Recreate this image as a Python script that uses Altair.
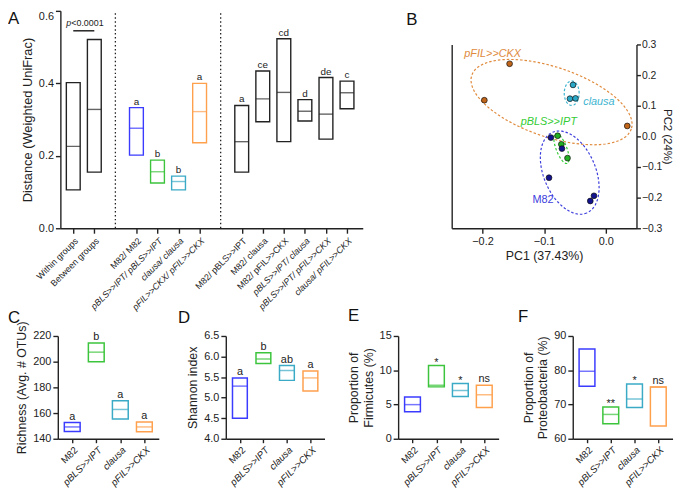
import altair as alt
import pandas as pd

FONT = "Liberation Sans"
INK = "#222222"
W, H = 677, 485

GROUPS = ["M82", "pBLS>>IPT", "clausa", "pFIL>>CKX"]

# ---------------- Panel A : pairwise weighted UniFrac distances ----------------
A_CATS = ["Within groups", "Between groups",
          "M82/ M82", "pBLS>>IPT/ pBLS>>IPT", "clausa/ clausa", "pFIL>>CKX/  pFIL>>CKX",
          "M82/ pBLS>>IPT", "M82/ clausa", "M82/ pFIL>>CKX",
          "pBLS>>IPT/ clausa", "pBLS>>IPT/  pFIL>>CKX", "clausa/ pFIL>>CKX"]
A_KIND = ["pooled", "pooled", "M82", "pBLS>>IPT", "clausa", "pFIL>>CKX",
          "pair", "pair", "pair", "pair", "pair", "pair"]
A_MIN = [0.106, 0.155, 0.202, 0.125, 0.106, 0.236, 0.155, 0.294, 0.239, 0.296, 0.246, 0.330]
A_MED = [0.226, 0.328, 0.276, 0.156, 0.129, 0.322, 0.239, 0.357, 0.375, 0.323, 0.315, 0.374]
A_MAX = [0.402, 0.521, 0.333, 0.188, 0.144, 0.400, 0.339, 0.434, 0.523, 0.355, 0.416, 0.406]
A_LETTERS = ["", "", "a", "b", "b", "a", "a", "ce", "cd", "d", "de", "c"]
A_GAPS = ["gap1", "gap2"]
A_P_TEXT = "<0.0001"
A_P_Y = 0.545

# ---------------- Panel B : PCoA ----------------
B_GROUP = ["pFIL>>CKX"] * 3 + ["clausa"] * 3 + ["pBLS>>IPT"] * 3 + ["M82"] * 5
B_PC1 = [-0.156, -0.197, 0.035, -0.053, -0.058, -0.049, -0.078, -0.072, -0.062,
         -0.089, -0.071, -0.092, -0.019, -0.025]
B_PC2 = [0.237, 0.118, 0.034, 0.168, 0.123, 0.124, 0.002, -0.026, -0.071,
         -0.004, -0.040, -0.135, -0.194, -0.211]
ELL_GROUP = ["pFIL>>CKX", "clausa", "pBLS>>IPT", "M82"]
ELL_CX = [-0.0879, -0.0552, -0.0718, -0.0584]
ELL_CY = [0.1118, 0.1409, -0.0398, -0.1183]
ELL_AX = [0.1295, 0.0121, 0.0094, 0.0275]
ELL_AY = [-0.0880, 0.0000, -0.0484, -0.1319]
ELL_BX = [-0.0182, 0.0000, -0.0080, -0.0390]
ELL_BY = [-0.1080, 0.0398, -0.0062, -0.0327]
LAB_TEXT = ["pFIL>>CKX", "clausa", "pBLS>>IPT", "M82"]
LAB_PC1 = [-0.2295, -0.0365, -0.138, -0.119]
LAB_PC2 = [0.268, 0.112, 0.047, -0.209]

# ---------------- Panels C-F ----------------
C_MIN = [145.6, 200.0, 155.4, 145.4]
C_MED = [149.2, 207.4, 162.8, 149.2]
C_MAX = [152.6, 214.6, 169.5, 153.1]
C_LET = ["a", "b", "a", "a"]

D_MIN = [4.50, 5.83, 5.42, 5.16]
D_MED = [5.28, 5.94, 5.66, 5.48]
D_MAX = [5.48, 6.09, 5.78, 5.65]
D_LET = ["a", "b", "ab", "a"]

E_MIN = [3.93, 7.57, 6.18, 4.55]
E_MED = [4.98, 7.81, 7.04, 6.42]
E_MAX = [6.09, 10.69, 8.05, 7.81]
E_LET = ["", "*", "*", "ns"]

F_MIN = [75.3, 64.4, 69.1, 63.7]
F_MED = [79.7, 67.1, 71.6, 75.1]
F_MAX = [86.2, 69.3, 76.0, 75.1]
F_LET = ["", "**", "*", "ns"]

# ---------------- styles ----------------
BOX_COL = {"pooled": INK, "pair": INK, "M82": "#3b3bff", "pBLS>>IPT": "#3cc43c",
           "clausa": "#3aaac6", "pFIL>>CKX": "#ffa04d"}
PT_COL = {"M82": "#12128f", "pBLS>>IPT": "#22b022", "clausa": "#2aa8c8", "pFIL>>CKX": "#c0651a"}
LN_COL = {"M82": "#3d3ddd", "pBLS>>IPT": "#33cc33", "clausa": "#3db4cf", "pFIL>>CKX": "#e08a3c"}

layers = []

# ---------- A ----------
A_DOMAIN = A_CATS[:2] + [A_GAPS[0]] + A_CATS[2:6] + [A_GAPS[1]] + A_CATS[6:]
dfA = pd.DataFrame({"cat": A_CATS, "lo": A_MIN, "mid": A_MED, "hi": A_MAX, "mark": A_LETTERS,
                    "col": [BOX_COL[k] for k in A_KIND]})
sxA = alt.Scale(type="point", domain=A_DOMAIN, range=[53, 359], padding=0.68, align=0.45)
syA = alt.Scale(domain=[0, 0.6], range=[220, 0], nice=False, zero=False)
axA_x = alt.Axis(orient="bottom", offset=-(H - 220), values=A_CATS, labelAngle=-45,
                 labelFontSize=9, labelOverlap=False, title=None, labelPadding=3,
                 labelFontStyle={"condition": {"test": "indexof(datum.value, 'M82') < 0 && indexof(datum.value, 'groups') < 0",
                                               "value": "italic"}, "value": "normal"})
axA_y = alt.Axis(orient="left", offset=-53, values=[0, 0.2, 0.4, 0.6], format=".1f",
                 title="Distance (Weighted UniFrac)", titleFontSize=13,
                 labelBaseline={"condition": {"test": "datum.value >= 0.59", "value": "top"},
                                "value": "middle"})
baseA = alt.Chart(dfA)
layers.append(baseA.mark_bar(size=14, fillOpacity=0, strokeWidth=1.4).encode(
    x=alt.X("cat:N", scale=sxA, axis=axA_x),
    y=alt.Y("lo:Q", scale=syA, axis=axA_y), y2="hi:Q",
    stroke=alt.Stroke("col:N", scale=None)))
layers.append(baseA.mark_tick(size=14, thickness=1.4, orient="horizontal").encode(
    x=alt.X("cat:N", scale=sxA, axis=None),
    y=alt.Y("mid:Q", scale=syA, axis=None),
    color=alt.Color("col:N", scale=None)))
layers.append(baseA.mark_text(baseline="alphabetic", dy=-3, fontSize=10, color=INK).encode(
    x=alt.X("cat:N", scale=sxA, axis=None),
    y=alt.Y("hi:Q", scale=syA, axis=None), text="mark:N"))
dfSep = pd.DataFrame({"cat": A_GAPS, "lo": [0, 0], "hi": [0.6, 0.6]})
layers.append(alt.Chart(dfSep).mark_rule(strokeDash=[1.5, 2.5], strokeWidth=1.3, color=INK).encode(
    x=alt.X("cat:N", scale=sxA, axis=None),
    y=alt.Y("lo:Q", scale=syA, axis=None), y2="hi:Q"))
dfP = pd.DataFrame({"a": [A_CATS[0]], "b": [A_CATS[1]], "y": [A_P_Y]})
layers.append(alt.Chart(dfP).mark_rule(strokeWidth=1.5, color=INK).encode(
    x=alt.X("a:N", scale=sxA, axis=None), x2="b:N",
    y=alt.Y("y:Q", scale=syA, axis=None)))
layers.append(alt.Chart(dfP).mark_text(text="p", fontStyle="italic", align="right", baseline="bottom",
                                       dx=-2, dy=-3, fontSize=9, color=INK).encode(
    x=alt.X("a:N", scale=sxA, axis=None), y=alt.Y("y:Q", scale=syA, axis=None)))
layers.append(alt.Chart(dfP).mark_text(text=A_P_TEXT, align="left", baseline="bottom",
                                       dx=-2, dy=-3, fontSize=9, color=INK).encode(
    x=alt.X("a:N", scale=sxA, axis=None), y=alt.Y("y:Q", scale=syA, axis=None)))

# ---------- B ----------
sxB = alt.Scale(domain=[-0.25, 0.05], range=[449, 636], nice=False, zero=False)
syB = alt.Scale(domain=[-0.3, 0.3], range=[220, 34], nice=False, zero=False)
for i, g in enumerate(ELL_GROUP):
    e = alt.Chart(alt.sequence(0, 365, 5, as_="t")).transform_calculate(
        px=f"{ELL_CX[i]} + ({ELL_AX[i]})*cos(datum.t*PI/180) + ({ELL_BX[i]})*sin(datum.t*PI/180)",
        py=f"{ELL_CY[i]} + ({ELL_AY[i]})*cos(datum.t*PI/180) + ({ELL_BY[i]})*sin(datum.t*PI/180)",
    ).mark_line(strokeDash=[2.5, 2], strokeWidth=1.2, color=LN_COL[g]).encode(
        x=alt.X("px:Q", scale=sxB, axis=None),
        y=alt.Y("py:Q", scale=syB, axis=None),
        order="t:Q")
    layers.append(e)
dfB = pd.DataFrame({"pc1": B_PC1, "pc2": B_PC2, "g": B_GROUP})
dfB["col"] = [PT_COL[g] for g in B_GROUP]
layers.append(alt.Chart(dfB).mark_circle(size=34, stroke="#111111", strokeWidth=0.7, opacity=1).encode(
    x=alt.X("pc1:Q", scale=sxB,
            axis=alt.Axis(orient="bottom", offset=-(H - 220), values=[-0.2, -0.1, 0.0], format=".1f",
                          title="PC1 (37.43%)", labelFontSize=11, titleFontSize=12.5)),
    y=alt.Y("pc2:Q", scale=syB,
            axis=alt.Axis(orient="right", offset=-(W - 636),
                          values=[-0.3, -0.2, -0.1, 0.0, 0.1, 0.2, 0.3], format=".1f",
                          labelFontSize=10.5, labelPadding=1, tickSize=4,
                          title="PC2 (24%)", titleFontSize=11.5, titleAngle=90,
                          titleBaseline="bottom", titlePadding=0)),
    fill=alt.Fill("col:N", scale=None)))
dfL = pd.DataFrame({"t": LAB_TEXT, "x": LAB_PC1, "y": LAB_PC2})
dfL["col"] = [LN_COL[g] for g in LAB_TEXT]
layers.append(alt.Chart(dfL).transform_filter("datum.t != 'M82'").mark_text(
    align="left", baseline="middle", fontSize=11, fontStyle="italic").encode(
    x=alt.X("x:Q", scale=sxB, axis=None),
    y=alt.Y("y:Q", scale=syB,
            axis=alt.Axis(orient="left", offset=-449, labels=False, ticks=False, title=None)),
    text="t:N", color=alt.Color("col:N", scale=None)))
layers.append(alt.Chart(dfL).transform_filter("datum.t == 'M82'").mark_text(
    align="left", baseline="middle", fontSize=11).encode(
    x=alt.X("x:Q", scale=sxB, axis=None),
    y=alt.Y("y:Q", scale=syB, axis=None),
    text="t:N", color=alt.Color("col:N", scale=None)))


# ---------- C-F ----------
def box_panel(mins, meds, maxs, marks, ydom, yticks, yfmt, ytitle, xr, bw):
    df = pd.DataFrame({"g": GROUPS, "lo": mins, "mid": meds, "hi": maxs, "mark": marks,
                       "col": [BOX_COL[g] for g in GROUPS]})
    sx = alt.Scale(type="point", domain=GROUPS, range=xr, padding=0.6)
    sy = alt.Scale(domain=ydom, range=[433, 329], nice=False, zero=False)
    xaxis = alt.Axis(orient="bottom", offset=-(H - 433), labelAngle=-45, labelFontSize=9.8,
                     labelOverlap=False, title=None, labelPadding=2, tickSize=4,
                     labelFontStyle={"condition": {"test": "datum.value != 'M82'", "value": "italic"},
                                     "value": "normal"})
    yaxis = alt.Axis(orient="left", offset=-xr[0], values=yticks, format=yfmt, title=ytitle,
                     titleFontSize=12.5)
    base = alt.Chart(df)
    out = [
        base.mark_bar(size=bw, fillOpacity=0, strokeWidth=1.5).encode(
            x=alt.X("g:N", scale=sx, axis=xaxis),
            y=alt.Y("lo:Q", scale=sy, axis=yaxis), y2="hi:Q",
            stroke=alt.Stroke("col:N", scale=None)),
        base.mark_tick(size=bw, thickness=1.5, orient="horizontal").encode(
            x=alt.X("g:N", scale=sx, axis=None),
            y=alt.Y("mid:Q", scale=sy, axis=None),
            color=alt.Color("col:N", scale=None)),
        base.transform_filter("indexof(datum.mark, '*') < 0").mark_text(
            baseline="alphabetic", dy=-3, fontSize=11, color=INK).encode(
            x=alt.X("g:N", scale=sx, axis=None),
            y=alt.Y("hi:Q", scale=sy, axis=None), text="mark:N"),
        base.transform_filter("indexof(datum.mark, '*') >= 0").mark_text(
            baseline="alphabetic", dy=0, fontSize=11, color=INK).encode(
            x=alt.X("g:N", scale=sx, axis=None),
            y=alt.Y("hi:Q", scale=sy, axis=None), text="mark:N"),
    ]
    return out


layers += box_panel(C_MIN, C_MED, C_MAX, C_LET, [140, 220], [140, 160, 180, 200, 220], "d",
                    "Richness (Avg. # OTUs)", [50.4, 152.6], 16)
layers += box_panel(D_MIN, D_MED, D_MAX, D_LET, [4.0, 6.5], [4.0, 4.5, 5.0, 5.5, 6.0, 6.5], ".1f",
                    "Shannon index", [220.4, 320.3], 15)
layers += box_panel(E_MIN, E_MED, E_MAX, E_LET, [0, 15], [0, 5, 10, 15], "d",
                    ["Proportion of", "Firmicutes (%)"], [394.8, 496.5], 16)
layers += box_panel(F_MIN, F_MED, F_MAX, F_LET, [60, 90], [60, 70, 80, 90], "d",
                    ["Proportion of", "Proteobacteria (%)"], [571.5, 672.5], 16)

# ---------- panel letters ----------
PANEL_TAGS = [("A", 0, 13), ("B", 403, 14), ("C", 0, 316), ("D", 172, 316), ("E", 344, 314), ("F", 516, 315)]
for tag, px, py in PANEL_TAGS:
    layers.append(alt.Chart(pd.DataFrame({"t": [tag]})).mark_text(
        align="left", baseline="alphabetic", fontSize=17, color="#111111").encode(
        x=alt.value(px), y=alt.value(py), text="t:N"))

chart = alt.layer(*layers).resolve_scale(x="independent", y="independent").properties(
    width=W, height=H, autosize=alt.AutoSizeParams(type="none"), padding=0
).configure_view(stroke=None).configure_axis(
    domainColor=INK, domainWidth=1.4, tickColor=INK, tickWidth=1.4, tickSize=5,
    labelFont=FONT, labelColor=INK, labelFontSize=11, titleFont=FONT, titleColor=INK,
    titleFontWeight="normal", titleFontSize=12.5, grid=False, titlePadding=4
).configure_text(font=FONT)

chart.save("out.html", embed_options={"renderer": "svg", "actions": False})
